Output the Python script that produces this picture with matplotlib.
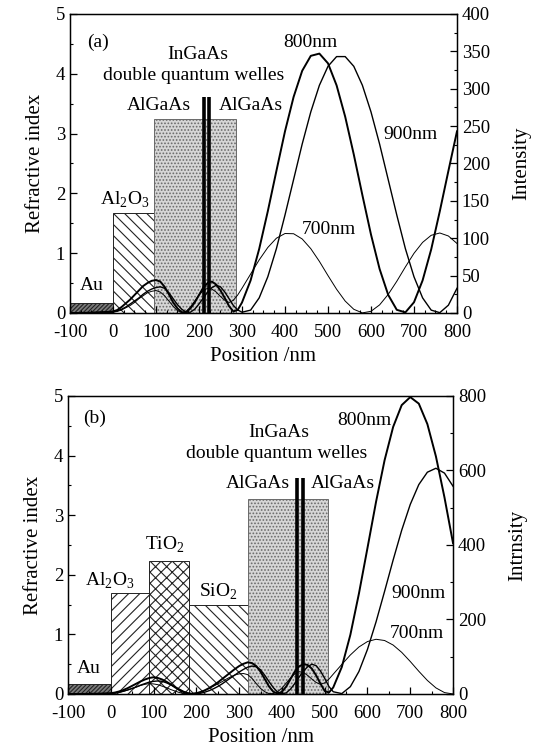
import numpy as np
import matplotlib
matplotlib.use('Agg')
import matplotlib.pyplot as plt
from matplotlib.ticker import MultipleLocator

plt.rcParams['font.family'] = 'Liberation Serif'
plt.rcParams['mathtext.fontset'] = 'custom'
plt.rcParams['mathtext.rm'] = 'Liberation Serif'
plt.rcParams['axes.unicode_minus'] = False
plt.rcParams['hatch.linewidth'] = 0.8

# ---------------- panel (a) data ----------------
# layer structure (refractive index)
layers_a = ['Au', 'Al2O3', 'AlGaAs']
start_a = [-100, 0, 95]
end_a = [0, 95, 285]
n_a = [0.16, 1.68, 3.24]
qw_a = [211, 224]
qw_n = 3.62

xa = np.concatenate([[-100, -75, -50, -25], np.arange(0, 301, 10), np.arange(320, 801, 20)])

i800_a = [0, 0, 0.5, 1,
          2, 4, 8, 13, 18, 24, 30, 36, 40, 43,
          44, 42, 35, 25, 14, 6, 1, 1, 6, 14,
          24, 34, 40, 42, 38, 30, 20, 9, 2, 4,
          14,
          43.5, 85.7, 136, 190, 243, 289, 324, 344, 347, 334,
          304.5, 262.6, 212, 157.6, 104.9, 58.9, 24.2, 4.2, 0.8, 14.3,
          43.5, 85, 136, 190, 243]
i900_a = [0, 0, 0.3, 0.8,
          1.5, 3, 5, 8, 12, 16, 20, 25, 29, 32,
          34, 35, 33, 27, 19, 11, 5, 1, 1, 5,
          12, 20, 28, 34, 37, 35, 28, 19, 10, 4,
          1,
          3.8, 20.2, 48.4, 86, 131, 178.5, 226, 269, 304.6, 330,
          343, 343, 330, 304.6, 269, 226, 178.5, 131, 86, 48.4,
          20.2, 3.8, 0.4, 10.4, 33]
i700_a = [0, 0, 0.2, 0.5,
          1, 2, 4, 7, 10, 14, 19, 23, 27, 29,
          30, 28, 23, 16, 9, 3, 0.5, 2, 8, 16,
          24, 30, 33, 32, 28, 22, 17, 14, 17, 24,
          33,
          52, 71, 87.6, 100, 106.3, 106, 99, 86, 69, 50,
          31.7, 15.9, 4.9, 0.1, 2.2, 10.8, 24.8, 42.4, 61.6, 79.8,
          94.4, 103.9, 107, 103, 93]

# ---------------- panel (b) data ----------------
layers_b = ['Au', 'Al2O3', 'TiO2', 'SiO2', 'AlGaAs']
start_b = [-100, 0, 90, 183, 320]
end_b = [0, 90, 183, 320, 508]
n_b = [0.16, 1.70, 2.23, 1.49, 3.27]
qw_b = [435, 449]

xb = np.concatenate([[-100, -75, -50, -25], np.arange(0, 521, 10), np.arange(540, 801, 20)])

i800_b = [0, 0, 0.5, 1,
          2, 4, 7, 11, 16, 22, 28, 34, 39, 43,
          45, 43, 39, 33, 26, 18, 11, 5, 1.5, 0.5,
          2, 5, 10, 16, 23, 31, 40, 49, 58, 67,
          75, 81, 85, 83, 75, 60, 40, 20, 6, 1,
          6, 20, 40, 60, 74, 80, 78, 68, 50, 28,
          8, 4, 17.6,
          72.5, 159, 269.5, 392, 515.7, 627.6, 717, 775.5, 797, 779.5,
          724.6, 637.8, 527.7, 404.8]
i900_b = [0, 0, 0.3, 0.8,
          1.5, 3, 5, 8, 11, 15, 19, 24, 28, 32,
          34, 35, 34, 30, 25, 19, 13, 7, 3, 0.5,
          0.5, 2, 5, 9, 14, 20, 27, 35, 43, 51,
          59, 66, 72, 75, 73, 65, 50, 33, 17, 5,
          0.5, 3, 13, 28, 45, 61, 73, 80, 76, 62,
          42, 20, 6,
          1.1, 19.7, 60.4, 119.8, 193.5, 275.6, 359.8, 439.6, 508.9, 562.2,
          595.4, 606, 593, 557.7]
i700_b = [0, 0, 0.2, 0.5,
          1, 2, 4, 7, 11, 15, 19, 23, 26, 28,
          27, 25, 21, 17, 12, 8, 4, 1.5, 0.5, 1,
          3, 6, 10, 15, 21, 27, 33, 40, 46, 51,
          54, 55, 52, 42, 28, 15, 6, 1, 1, 6,
          16, 29, 43, 54, 60, 58, 50, 40, 31, 26,
          29.8, 40, 53.3,
          79.4, 104.8, 126.2, 140.8, 146.9, 143.6, 131.4, 111.8, 87.3, 61,
          36.4, 16.4, 3.8, 0.05]

hatch_style = {
    'Au': dict(facecolor='#7a7a7a', edgecolor='#222222', hatch='////////'),
    'Al2O3_a': dict(facecolor='white', edgecolor='#222222', hatch='\\\\\\'),
    'Al2O3': dict(facecolor='white', edgecolor='#222222', hatch='///'),
    'TiO2': dict(facecolor='white', edgecolor='#222222', hatch='xxx'),
    'SiO2': dict(facecolor='white', edgecolor='#222222', hatch='\\\\\\'),
    'AlGaAs': dict(facecolor='#d6d6d6', edgecolor='#6a6a6a', hatch='.....'),
}


def draw_layers(ax, names, x0, x1, n, qw, panel):
    for name, a, b, h in zip(names, x0, x1, n):
        key = name
        if panel == 'a' and name == 'Al2O3':
            key = 'Al2O3_a'
        ax.bar(a, h, width=b - a, align='edge', linewidth=0.7, zorder=1, **hatch_style[key])
    ax.vlines(qw, 0, qw_n, color='k', linewidth=2.6, zorder=3)


def style_axes(ax, axr, imax, istep, iminor, xminor, rlabel):
    ax.set_xlim(-100, 800)
    ax.set_ylim(0, 5)
    axr.set_ylim(0, imax)
    ax.xaxis.set_major_locator(MultipleLocator(100))
    ax.xaxis.set_minor_locator(MultipleLocator(xminor))
    ax.yaxis.set_major_locator(MultipleLocator(1))
    ax.yaxis.set_minor_locator(MultipleLocator(0.5))
    axr.yaxis.set_major_locator(MultipleLocator(istep))
    axr.yaxis.set_minor_locator(MultipleLocator(iminor))
    ax.tick_params(which='both', direction='in', top=False, right=False, labelsize=13.5)
    ax.tick_params(axis='x', pad=8)
    ax.tick_params(which='major', length=5, width=0.9)
    ax.tick_params(which='minor', length=2.5, width=0.8)
    axr.tick_params(which='both', direction='in', labelsize=13.5)
    axr.tick_params(which='major', length=5, width=0.9)
    axr.tick_params(which='minor', length=2.5, width=0.8)
    ax.set_xlabel('Position /nm', fontsize=15, labelpad=4)
    ax.set_ylabel('Refractive index', fontsize=15, labelpad=8)
    axr.set_ylabel(rlabel, fontsize=15, labelpad=16)
    for s in ax.spines.values():
        s.set_linewidth(1.0)


fig = plt.figure(figsize=(5.49, 7.48), dpi=100)

# ---- (a)
ax1 = fig.add_axes([0.1275, 0.5816, 0.7049, 0.3997])
ax1r = ax1.twinx()
draw_layers(ax1, layers_a, start_a, end_a, n_a, qw_a, 'a')
ax1r.plot(xa, i800_a, color='k', linewidth=1.4)
ax1r.plot(xa, i900_a, color='k', linewidth=1.0)
ax1r.plot(xa, i700_a, color='k', linewidth=0.7)
style_axes(ax1, ax1r, 400, 50, 25, 25, 'Intensity')

t = dict(fontsize=14, ha='center', va='center')
ax1.text(-35, 4.53, '(a)', **t)
ax1.text(458, 4.53, '800nm', **t)
ax1.text(196, 4.32, 'InGaAs', **t)
ax1.text(188, 3.97, 'double quantum welles', **t)
ax1.text(106, 3.47, 'AlGaAs', **t)
ax1.text(320, 3.47, 'AlGaAs', **t)
ax1.text(693, 2.98, '900nm', **t)
ax1.text(503, 1.40, '700nm', **t)
ax1.text(28, 1.89, r'Al$_\mathregular{2}$O$_\mathregular{3}$', **t)
ax1.text(-49, 0.46, 'Au', **t)

# ---- (b)
ax2 = fig.add_axes([0.1239, 0.0722, 0.7013, 0.3984])
ax2r = ax2.twinx()
draw_layers(ax2, layers_b, start_b, end_b, n_b, qw_b, 'b')
ax2r.plot(xb, i800_b, color='k', linewidth=1.4)
ax2r.plot(xb, i900_b, color='k', linewidth=1.0)
ax2r.plot(xb, i700_b, color='k', linewidth=0.7)
style_axes(ax2, ax2r, 800, 200, 100, 50, 'Intrnsity')

ax2.text(-37, 4.63, '(b)', **t)
ax2.text(592, 4.59, '800nm', **t)
ax2.text(392, 4.38, 'InGaAs', **t)
ax2.text(387, 4.04, 'double quantum welles', **t)
ax2.text(344, 3.53, 'AlGaAs', **t)
ax2.text(543, 3.53, 'AlGaAs', **t)
ax2.text(127, 2.51, r'TiO$_\mathregular{2}$', **t)
ax2.text(-2, 1.89, r'Al$_\mathregular{2}$O$_\mathregular{3}$', **t)
ax2.text(252, 1.72, r'SiO$_\mathregular{2}$', **t)
ax2.text(720, 1.69, '900nm', **t)
ax2.text(716, 1.02, '700nm', **t)
ax2.text(-52, 0.42, 'Au', **t)

fig.savefig('out.png', dpi=100)
